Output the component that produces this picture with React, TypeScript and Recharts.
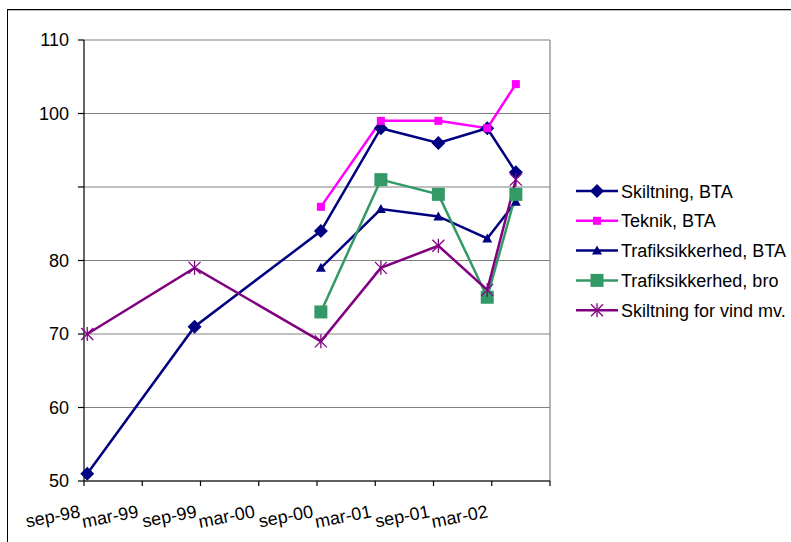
import React from 'react';
import { LineChart, Line, XAxis, YAxis, CartesianGrid, ReferenceLine } from 'recharts';

const dates = ['1998-09-11', '1999-08-13', '2000-09-13', '2001-03-19', '2001-09-16', '2002-02-16', '2002-05-16'];

const skiltningBTA = [51, 71, 84, 98, 96, 98, 92];
const teknikBTA = [null, null, 87.3, 99, 99, 98, 104];
const trafikBTA = [null, null, 79, 87, 86, 83, 88];
const trafikBro = [null, null, 73, 91, 89, 75, 89];
const skiltningVind = [70, 79, 69, 79, 82, 76, 91];

const xTicks = [0, 6, 12, 18, 24, 30, 36, 42, 48];
const xLabels = ['sep-98', 'mar-99', 'sep-99', 'mar-00', 'sep-00', 'mar-01', 'sep-01', 'mar-02', ''];
const yTicks = [50, 60, 70, 80, 90, 100, 110];

const FONT = '"Liberation Sans", Arial, sans-serif';

// months since 1 sep 1998
function toMonths(iso: string) {
  const [y, m, d] = iso.split('-').map(Number);
  const dim = new Date(Date.UTC(y, m, 0)).getUTCDate();
  return (y - 1998) * 12 + (m - 9) + (d - 1) / dim;
}

const data = dates.map((d, i) => ({
  m: toMonths(d),
  s1: skiltningBTA[i],
  s2: teknikBTA[i],
  s3: trafikBTA[i],
  s4: trafikBro[i],
  s5: skiltningVind[i],
}));

const series = [
  { key: 's1', name: 'Skiltning, BTA', color: '#000080', marker: 'diamond' },
  { key: 's2', name: 'Teknik, BTA', color: '#FF00FF', marker: 'smallSquare' },
  { key: 's3', name: 'Trafiksikkerhed, BTA', color: '#000080', marker: 'triangle' },
  { key: 's4', name: 'Trafiksikkerhed, bro', color: '#339966', marker: 'square' },
  { key: 's5', name: 'Skiltning for vind mv.', color: '#800080', marker: 'star' },
];

function Marker({ type, cx, cy, color }: { type: string; cx: number; cy: number; color: string }) {
  switch (type) {
    case 'diamond':
      return <polygon points={`${cx},${cy - 7} ${cx + 7},${cy} ${cx},${cy + 7} ${cx - 7},${cy}`} fill={color} />;
    case 'smallSquare':
      return <rect x={cx - 4} y={cy - 4} width={8} height={8} fill={color} />;
    case 'triangle':
      return <polygon points={`${cx},${cy - 5} ${cx + 5},${cy + 4} ${cx - 5},${cy + 4}`} fill={color} />;
    case 'square':
      return <rect x={cx - 6.5} y={cy - 6.5} width={13} height={13} fill={color} />;
    case 'star':
      return (
        <g stroke={color} strokeWidth={1.3}>
          <line x1={cx - 6} y1={cy - 6} x2={cx + 6} y2={cy + 6} />
          <line x1={cx - 6} y1={cy + 6} x2={cx + 6} y2={cy - 6} />
          <line x1={cx} y1={cy - 7} x2={cx} y2={cy + 7} />
        </g>
      );
    default:
      return null;
  }
}

const makeDot = (type: string, color: string) => (props: any) => {
  const { cx, cy, key, value } = props;
  if (cx == null || cy == null || value == null) return <g key={key} />;
  return (
    <g key={key}>
      <Marker type={type} cx={cx} cy={cy} color={color} />
    </g>
  );
};

// rotated date labels, right end sitting just left of the tick
const renderXTick = (props: any) => {
  const { x, y, payload } = props;
  const label = xLabels[xTicks.indexOf(payload.value)] ?? '';
  const tx = x - 3;
  const ty = y + 29;
  return (
    <g key={`xt-${payload.value}`} transform={`rotate(-11 ${tx} ${ty})`}>
      <text x={tx} y={ty} textAnchor="end" fontSize={18} fontFamily={FONT} fill="#000">
        {label}
      </text>
    </g>
  );
};

const LegendBox = () => (
  <svg width={215} height={160} style={{ position: 'absolute', left: 576, top: 179, overflow: 'visible' }}>
    {series.map((s, i) => {
      const cy = 12 + i * 29.8;
      return (
        <g key={s.key}>
          <line x1={0} y1={cy} x2={42} y2={cy} stroke={s.color} strokeWidth={2.5} />
          <Marker type={s.marker} cx={21} cy={cy} color={s.color} />
          <text x={45} y={cy + 6.5} fontSize={18} fontFamily={FONT} fill="#000">
            {s.name}
          </text>
        </g>
      );
    })}
  </svg>
);

export default function App() {
  return (
    <div style={{ position: 'fixed', left: 0, top: 0, width: 791, height: 542, overflow: 'hidden', background: '#fff' }}>
      <div
        style={{
          position: 'absolute',
          left: 7,
          top: 9,
          width: 800,
          height: 600,
          borderTop: '1.5px solid #000',
          borderLeft: '1.2px solid #000',
          boxShadow: '0 1px 0 #bbb inset',
        }}
      />
      <div style={{ position: 'absolute', left: 0, top: 0 }}>
        <LineChart width={791} height={542} data={data} margin={{ top: 40, right: 241, bottom: 21, left: 24 }}>
          <CartesianGrid horizontal vertical={false} stroke="#808080" strokeWidth={1.2} />
          <ReferenceLine x={48} stroke="#808080" strokeWidth={1.2} />
          <XAxis
            dataKey="m"
            type="number"
            domain={[0, 48]}
            ticks={xTicks}
            interval={0}
            height={40}
            tickSize={5}
            axisLine={{ stroke: '#000', strokeWidth: 1.2 }}
            tickLine={{ stroke: '#000', strokeWidth: 1.2 }}
            tick={renderXTick}
          />
          <YAxis
            type="number"
            domain={[50, 110]}
            ticks={yTicks}
            interval={0}
            width={60}
            tickSize={6}
            tickMargin={9}
            axisLine={{ stroke: '#000', strokeWidth: 1.2 }}
            tickLine={{ stroke: '#000', strokeWidth: 1.2 }}
            tickFormatter={(v: number) => (v === 90 ? '' : String(v))}
            tick={{ fontSize: 18, fontFamily: FONT, fill: '#000' }}
          />
          {series.map((s) => (
            <Line
              key={s.key}
              type="linear"
              dataKey={s.key}
              name={s.name}
              stroke={s.color}
              strokeWidth={2.5}
              dot={makeDot(s.marker, s.color)}
              activeDot={false}
              isAnimationActive={false}
              connectNulls={false}
            />
          ))}
        </LineChart>
      </div>
      <LegendBox />
    </div>
  );
}
